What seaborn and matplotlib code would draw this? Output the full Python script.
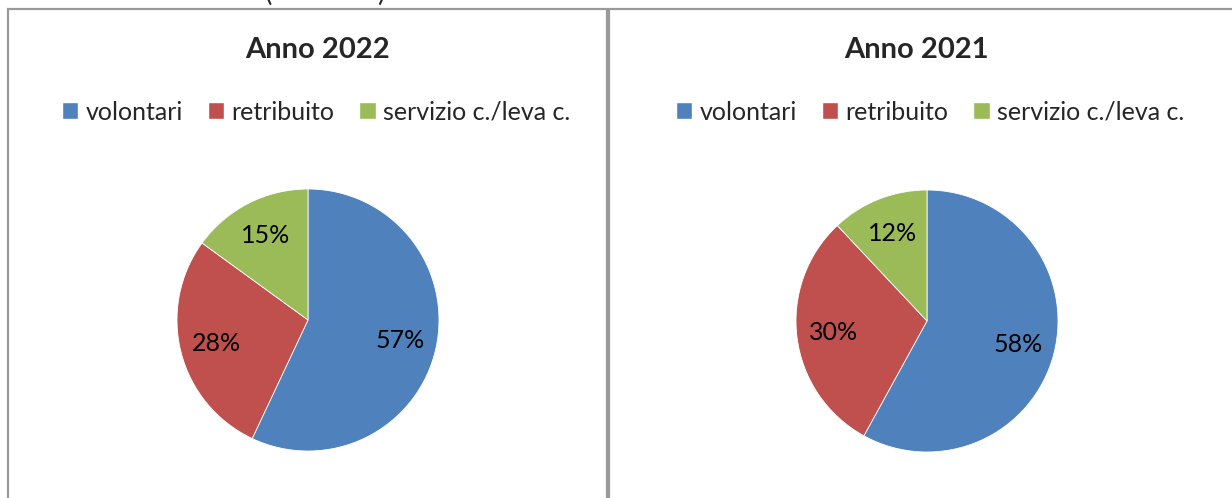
import matplotlib
matplotlib.use("Agg")
import matplotlib.pyplot as plt
import matplotlib.patches as mpatches
import seaborn as sns

sns.set_style("white")
plt.rcParams["font.family"] = ["Lato", "DejaVu Sans"]

# --- data ---
categories = ["volontari", "retribuito", "servizio c./leva c."]
share_2022 = [57, 28, 15]
share_2021 = [58, 30, 12]
titles = ["Anno 2022", "Anno 2021"]
colors = sns.color_palette(["#4F81BD", "#C0504D", "#9BBB59"])

W, H = 1232, 498
fig = plt.figure(figsize=(W / 100, H / 100), dpi=100)

def fx(px):
    return px / W

def fy(py):
    return 1 - py / H

# panel frames
for x0, x1 in [(8, 607), (609, 1245)]:
    fig.patches.append(mpatches.Rectangle(
        (fx(x0), fy(505)), fx(x1 - x0), (505 - 9) / H,
        transform=fig.transFigure, fill=False, edgecolor="#9a9a9a",
        linewidth=1.6, zorder=0))

# clipped heading above the panels (only the bracket tails show)
fig.text(fx(268), fy(-8), "(", fontsize=20, ha="center", va="center")
fig.text(fx(381), fy(-8), ")", fontsize=20, ha="center", va="center")

panels = [
    (share_2022, titles[0], 308, 320, 318, 316),
    (share_2021, titles[1], 927, 321, 916, 930),
]
R = 131
for values, title, cx, cy, tx, lx in panels:
    ax = fig.add_axes([fx(cx - R), fy(cy + R), 2 * R / W, 2 * R / H])
    ax.pie(values, colors=colors, startangle=90, counterclock=False,
           radius=1, autopct="%d%%", pctdistance=0.72,
           wedgeprops={"linewidth": 0.6, "edgecolor": "white"},
           textprops={"fontsize": 18, "color": "black"})
    ax.set_xlim(-1, 1)
    ax.set_ylim(-1, 1)
    ax.set_aspect("equal")
    ax.axis("off")

    fig.text(fx(tx), fy(50), title, fontsize=21, fontweight="bold",
             ha="center", va="center")
    handles = [mpatches.Patch(facecolor=c, label=l) for c, l in zip(colors, categories)]
    fig.legend(handles=handles, loc="center", bbox_to_anchor=(fx(lx), fy(112)),
               ncol=3, frameon=False, fontsize=18, handlelength=0.65,
               handleheight=0.65, handletextpad=0.3, columnspacing=1.0)

plt.savefig("out.png", dpi=100)
plt.close()
